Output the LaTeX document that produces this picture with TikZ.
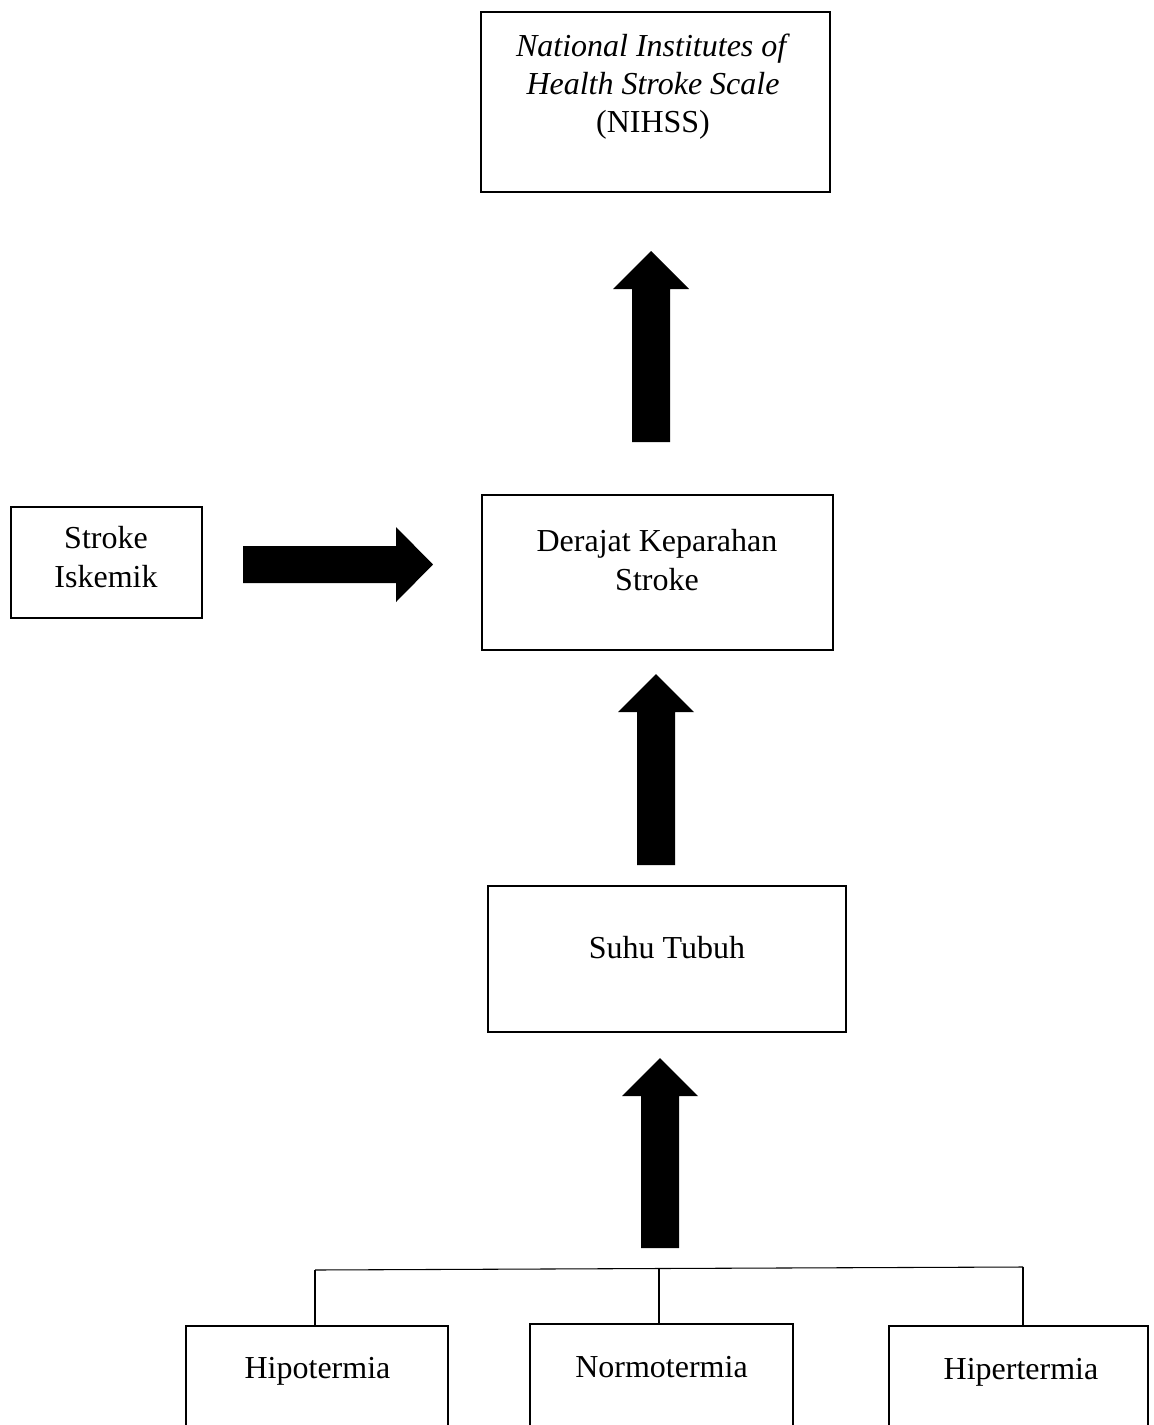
\documentclass[tikz,border=0pt]{standalone}
\usepackage{fontspec}
\setmainfont{Liberation Serif}
\newcommand\blkup[3]{\fill[black] (#1-19,#2) -- (#1+19,#2) -- (#1+19,#3+38) -- (#1+38,#3+38) -- (#1,#3) -- (#1-38,#3+38) -- (#1-19,#3+38) -- cycle;}
\begin{document}
\begin{tikzpicture}[x=0.375pt,y=-0.375pt,
  box/.style 2 args={draw,line width=0.75pt,inner sep=0pt,outer sep=0pt,minimum width=#1*0.375pt,minimum height=#2*0.375pt},
  lbl/.style={anchor=north,align=center,inner sep=0pt,font=\fontsize{12}{14.4}\selectfont},
  conn/.style={line width=0.4pt}]
\useasboundingbox (0,0) rectangle (1154,1425);
\clip (0,0) rectangle (1154,1425);
\fill[white] (0,0) rectangle (1154,1425);

% boxes
\node[box={349}{180}] (nihss) at (655.5,102) {};
\node[box={191}{111}] (stroke) at (106.5,562.5) {};
\node[box={351}{155}] (derajat) at (657.5,572.5) {};
\node[box={358}{146}] (suhu) at (667,959) {};
\node[box={262}{134}] (hipo) at (317,1393) {};
\node[box={263}{136}] (normo) at (661.5,1392) {};
\node[box={259}{134}] (hiper) at (1018.5,1393) {};

% labels
\node[lbl] (nihssT) at (653,33) {\textit{National Institutes of}\\\textit{Health Stroke Scale}\\(NIHSS)};
\node[lbl] (strokeT) at (106,526) {Stroke\\Iskemik};
\node[lbl] (derajatT) at (657,529) {Derajat Keparahan\\Stroke};
\node[lbl] (suhuT) at (667,936) {Suhu Tubuh};
\node[lbl] (hipoT) at (317.5,1357) {Hipotermia};
\node[lbl] (normoT) at (661.5,1356) {Normotermia};
\node[lbl] (hiperT) at (1021,1358) {Hipertermia};

% block arrows
\blkup{651}{442}{251}
\blkup{656}{865}{674}
\blkup{660}{1248}{1058}
\fill[black] (243,546) -- (396,546) -- (396,527) -- (433,564.5) -- (396,602) -- (396,583) -- (243,583) -- cycle;

% tree connectors
\coordinate (jl) at (315,1270);
\coordinate (jm) at (659,1268.5);
\coordinate (jr) at (1023,1267);
\draw[conn] (jl) -- (jm) -- (jr);
\draw[conn] (jl) -- (jl |- hipo.north);
\draw[conn] (jm) -- (jm |- normo.north);
\draw[conn] (jr) -- (jr |- hiper.north);
\end{tikzpicture}
\end{document}
